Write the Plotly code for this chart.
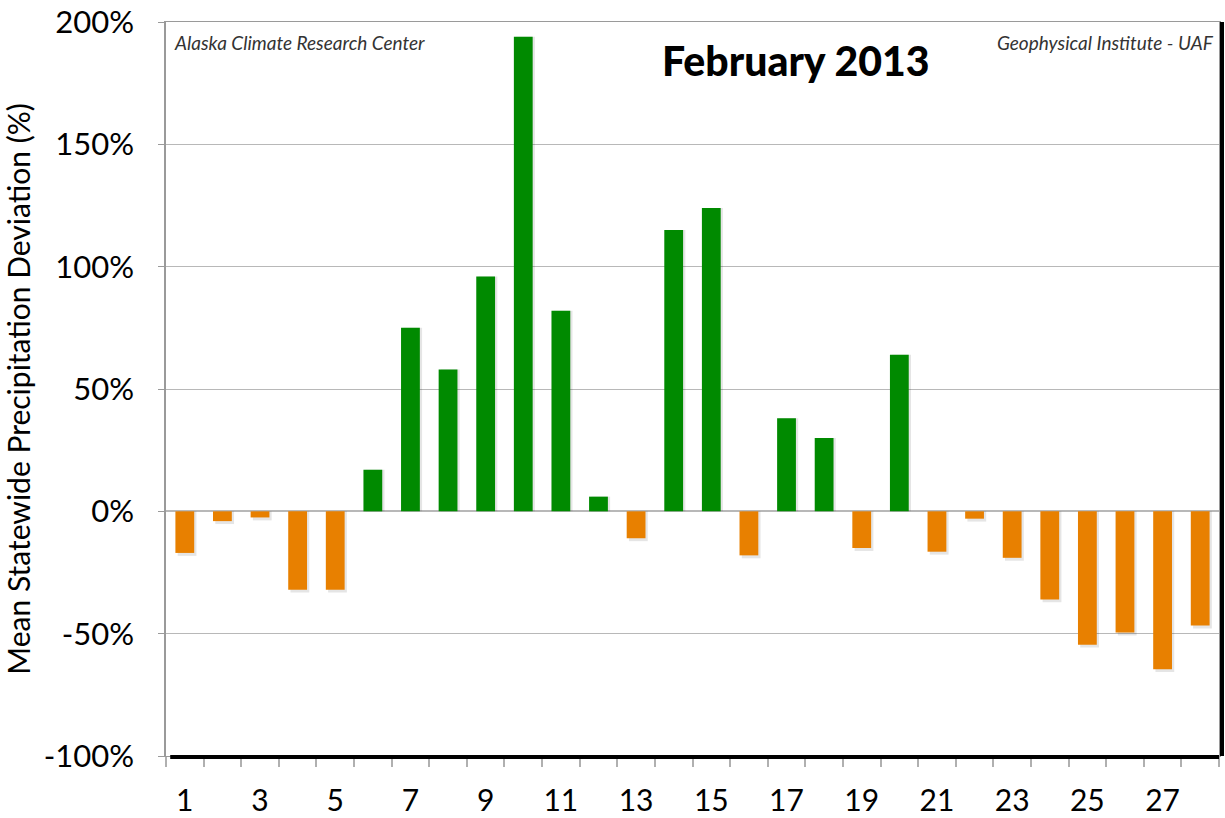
import plotly.graph_objects as go

days = list(range(1, 29))
deviation = [-17, -4, -2.5, -32, -32, 17, 75, 58, 96, 194, 82, 6, -11, 115,
             124, -18, 38, 30, -15, 64, -16.5, -3, -19, -36, -54.5, -49.5, -64.5, -46.7]
y_ticks = [-100, -50, 0, 50, 100, 150, 200]
y_tick_labels = ["-100%", "-50%", "0%", "50%", "100%", "150%", "200%"]
x_tick_vals = list(range(1, 29, 2))
x_tick_labels = [str(v) for v in x_tick_vals]

GREEN = "#008A00"
ORANGE = "#E88000"
colors = [GREEN if v >= 0 else ORANGE for v in deviation]

fig = go.Figure()
# subtle shadow
fig.add_trace(go.Bar(
    x=[d + 0.06 for d in days],
    y=[v - (1.2 if v < 0 else 0) for v in deviation],
    width=0.5,
    marker=dict(color="rgba(0,0,0,0.10)", line=dict(width=0)),
    hoverinfo="skip", showlegend=False,
))
fig.add_trace(go.Bar(
    x=days, y=deviation, width=0.5,
    marker=dict(color=colors, line=dict(width=0)),
    showlegend=False,
))

fig.update_layout(
    width=1225, height=818,
    margin=dict(l=166, r=6, t=22, b=62, autoexpand=False),
    paper_bgcolor="white", plot_bgcolor="white",
    barmode="overlay",
    font=dict(family="Lato", color="black"),
    xaxis=dict(
        range=[0.5, 28.5],
        tickvals=x_tick_vals, ticktext=x_tick_labels,
        ticks="outside", ticklen=18, tickcolor="rgba(0,0,0,0)",
        tickfont=dict(size=30, family="Lato"),
        showgrid=False, zeroline=False, automargin=False,
        showline=True, linecolor="#9a9a9a", linewidth=1, mirror=True,
        minor=dict(tickvals=[d + 0.5 for d in range(0, 29)], ticks="outside",
                   ticklen=10, tickcolor="#b0b0b0", tickwidth=1.5, showgrid=False),
    ),
    yaxis=dict(
        range=[-100, 200],
        tickvals=y_ticks, ticktext=y_tick_labels,
        ticks="outside", ticklen=6, tickcolor="#9a9a9a",
        ticklabelstandoff=18,
        tickfont=dict(size=31, family="Lato"),
        showgrid=True, gridcolor="#b8b8b8", gridwidth=1,
        zeroline=True, zerolinecolor="#b8b8b8", zerolinewidth=1.5,
        showline=True, linecolor="#9a9a9a", linewidth=1.5, mirror=True,
        automargin=False,
        title=dict(text="Mean Statewide Precipitation Deviation (%)",
                   font=dict(size=30, family="Lato"), standoff=5),
    ),
    shapes=[
        dict(type="line", xref="paper", yref="paper", ysizemode="pixel", yanchor=0,
             x0=0.004, x1=1.0, y0=-1, y1=-1,
             line=dict(color="black", width=4)),
        dict(type="line", xref="paper", yref="paper", xsizemode="pixel", xanchor=1,
             x0=3, x1=3, y0=0, y1=1, line=dict(color="black", width=4)),
    ],
    annotations=[
        dict(text="<i>Alaska Climate Research Center</i>", xref="paper", yref="paper",
             x=0.006, y=0.99, xanchor="left", yanchor="top", showarrow=False,
             font=dict(size=19, family="Lato", color="#333333")),
        dict(text="<i>Geophysical Institute - UAF</i>", xref="paper", yref="paper",
             x=0.997, y=0.99, xanchor="right", yanchor="top", showarrow=False,
             font=dict(size=19, family="Lato", color="#333333")),
        dict(text="February 2013", xref="paper", yref="paper",
             x=0.598, y=0.947, xanchor="center", yanchor="middle", showarrow=False,
             font=dict(size=41, family="Lato", color="black", weight=900)),
    ],
)

fig.write_html("out.html", config={"displayModeBar": False},
               post_script="document.body.style.margin='0';document.body.style.overflow='hidden';")
